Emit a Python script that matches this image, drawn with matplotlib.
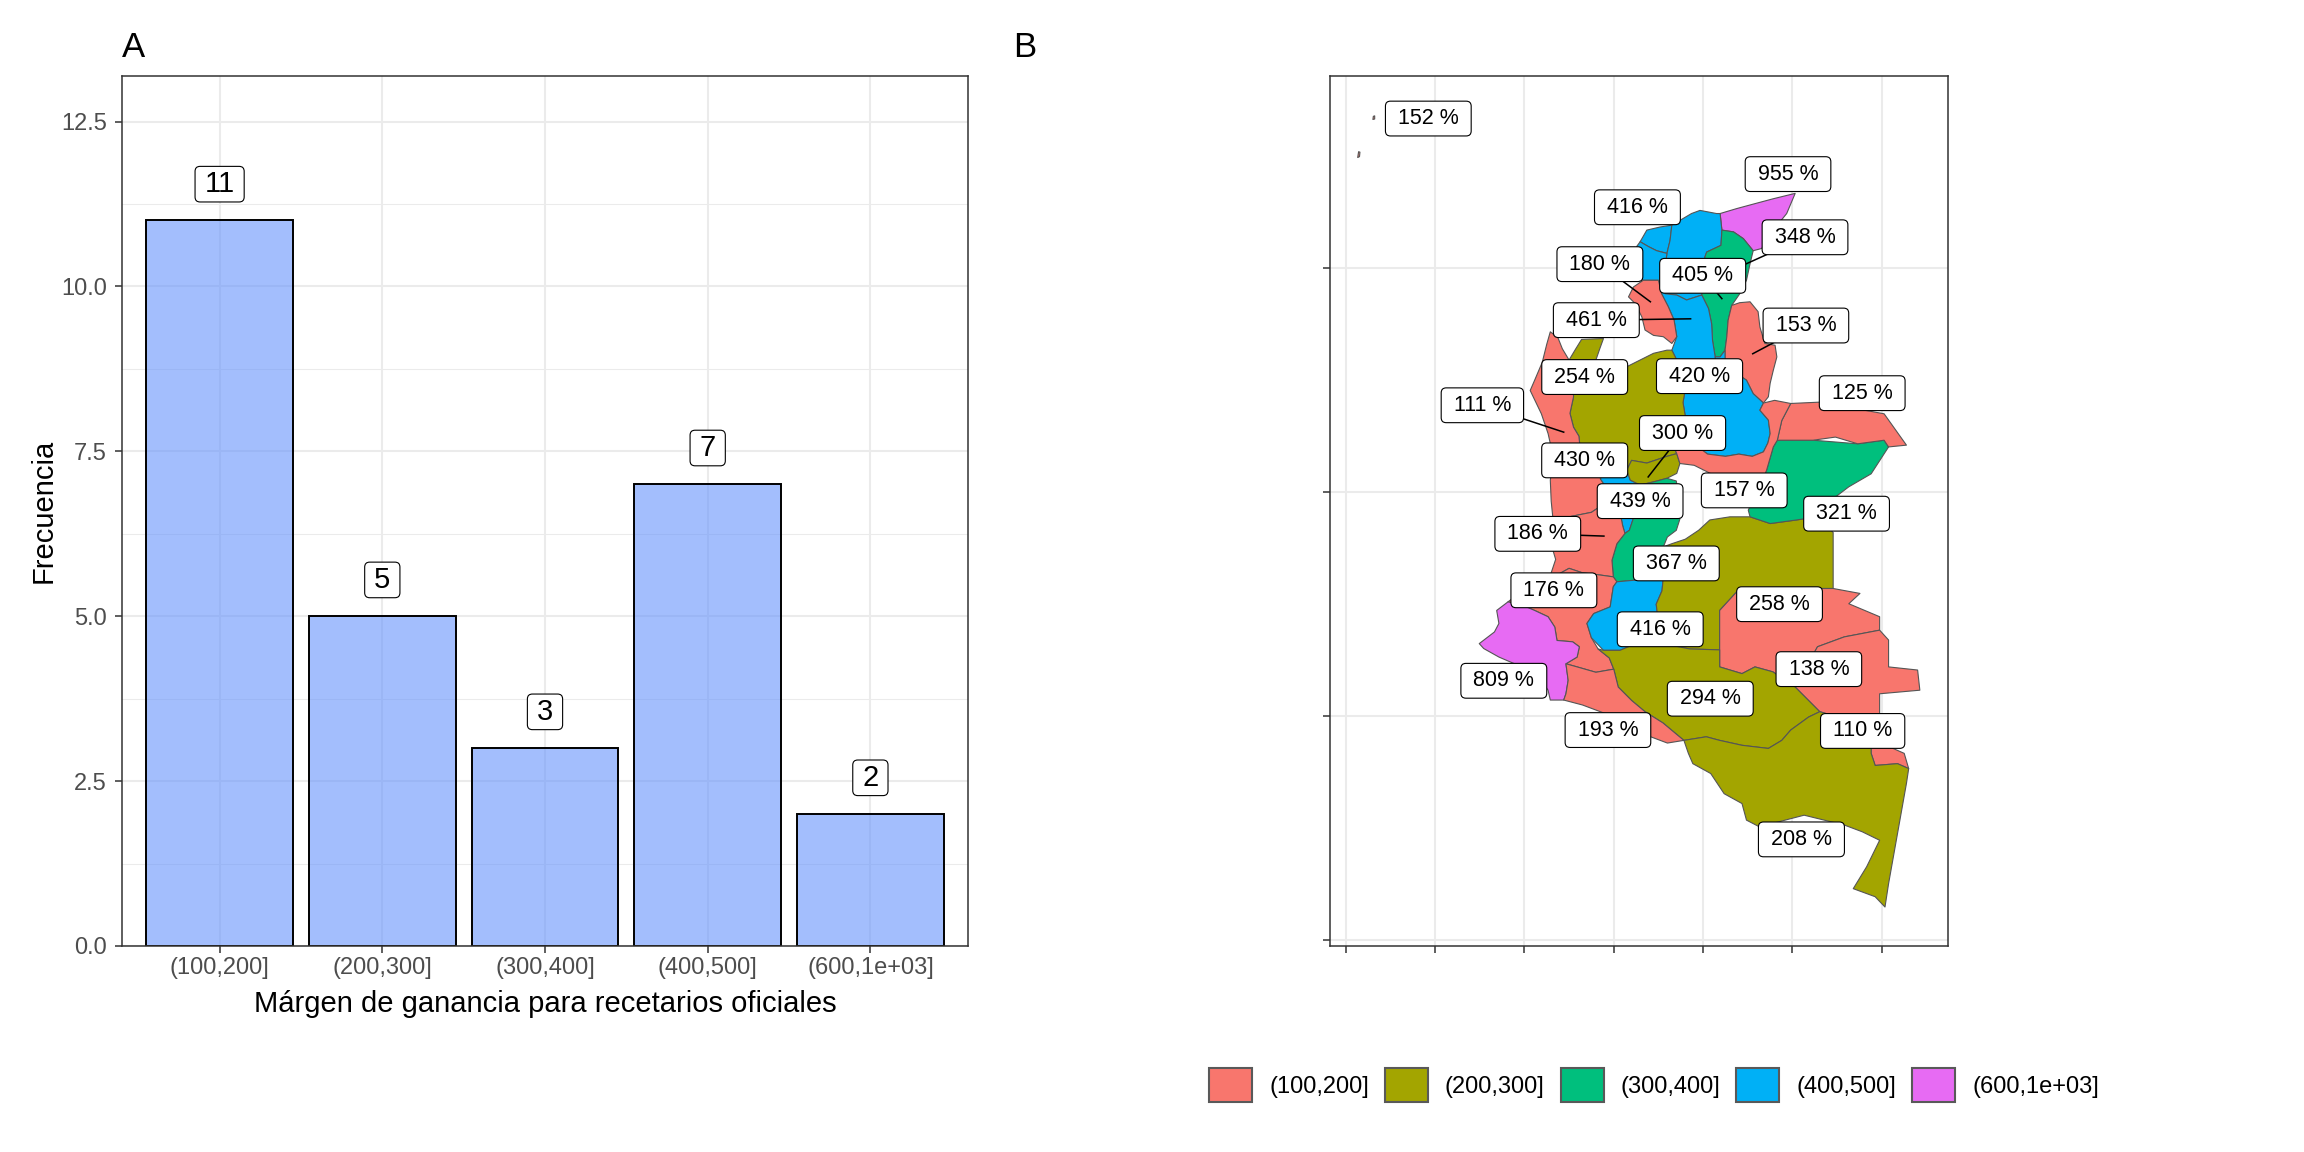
import numpy as np
import matplotlib
matplotlib.use("Agg")
import matplotlib.pyplot as plt
from matplotlib.patches import Polygon, FancyBboxPatch, Patch
from matplotlib.transforms import IdentityTransform
from matplotlib.ticker import MultipleLocator

plt.rcParams["font.family"] = ["Liberation Sans", "DejaVu Sans"]

# Panel A: frequency of the margin classes.
categories = ["(100,200]", "(200,300]", "(300,400]", "(400,500]", "(600,1e+03]"]
counts = [11, 5, 3, 7, 2]

# Panel B: margin (%) per department, outlines in lon/lat.
dept_names = ["San Andrés", "La Guajira", "Atlántico", "Magdalena", "Cesar", "Bolívar",
              "Sucre", "Norte de Santander", "Santander", "Antioquia", "Chocó", "Risaralda",
              "Caldas", "Quindío", "Tolima", "Valle", "Cauca", "Nariño", "Huila", "Meta",
              "Guaviare", "Vaupés", "Caquetá", "Putumayo", "Amazonas", "Casanare", "Arauca",
              "Boyacá"]
dept_values = [152, 955, 416, 405, 348, 461,
               180, 153, 420, 254, 111, 430,
               300, 439, 367, 186, 176, 809, 416, 258,
               138, 110, 294, 193, 208, 321, 125,
               157]

dept_shapes = {
    "San Andrés": [
        [(-81.73, 12.47), (-81.69, 12.49), (-81.68, 12.59), (-81.71, 12.60)],
        [(-81.39, 13.32), (-81.35, 13.33), (-81.35, 13.40), (-81.38, 13.39)]],
    "La Guajira": [[(-73.62, 11.22), (-73.25, 11.33), (-72.88, 11.43), (-72.43, 11.55), (-71.94, 11.67),
                    (-72.13, 11.22), (-72.43, 10.85), (-72.69, 10.44), (-72.88, 10.39), (-73.10, 10.66),
                    (-73.32, 10.81), (-73.58, 10.85)]],
    "Atlántico": [[(-75.41, 10.59), (-75.26, 10.85), (-74.96, 10.92), (-74.70, 10.96), (-74.74, 10.62),
                   (-74.81, 10.33), (-75.04, 10.39), (-75.22, 10.48)]],
    "Magdalena": [[(-74.70, 10.96), (-74.26, 11.22), (-74.07, 11.29), (-73.70, 11.22), (-73.62, 11.22),
                   (-73.58, 10.85), (-73.60, 10.51), (-73.92, 10.36), (-73.96, 10.25), (-73.99, 9.73),
                   (-74.03, 9.40), (-74.37, 9.29), (-74.59, 9.40), (-74.85, 9.43), (-74.89, 9.73),
                   (-74.85, 10.03), (-74.81, 10.33), (-74.74, 10.62)]],
    "Cesar": [[(-73.58, 10.85), (-73.32, 10.81), (-73.10, 10.66), (-72.88, 10.39), (-72.95, 10.10),
               (-73.03, 9.73), (-73.18, 9.43), (-73.36, 9.17), (-73.44, 8.84), (-73.47, 8.47),
               (-73.51, 8.17), (-73.62, 8.02), (-73.73, 8.02), (-73.79, 8.39), (-73.81, 8.76),
               (-73.88, 9.10), (-74.03, 9.40), (-73.99, 9.73), (-73.96, 10.25), (-73.92, 10.36),
               (-73.60, 10.51)]],
    "Bolívar": [[(-75.41, 10.59), (-75.22, 10.48), (-75.04, 10.39), (-74.81, 10.33), (-74.85, 10.03),
                 (-74.89, 9.73), (-74.85, 9.43), (-74.59, 9.40), (-74.37, 9.29), (-74.03, 9.40),
                 (-73.88, 9.10), (-73.81, 8.76), (-73.79, 8.39), (-73.73, 8.02), (-73.70, 7.76),
                 (-73.92, 7.57), (-74.22, 7.54), (-74.44, 7.69), (-74.59, 7.95), (-74.70, 8.17),
                 (-74.59, 8.47), (-74.65, 8.84), (-74.78, 9.14), (-74.93, 9.43), (-75.00, 9.73),
                 (-75.34, 9.73), (-75.52, 9.95), (-75.52, 10.25), (-75.49, 10.48)]],
    "Sucre": [[(-75.34, 9.73), (-75.00, 9.73), (-74.93, 9.43), (-74.78, 9.14), (-74.65, 8.84),
               (-74.59, 8.47), (-74.70, 8.32), (-74.89, 8.47), (-75.11, 8.50), (-75.30, 8.62),
               (-75.37, 8.91), (-75.52, 9.21), (-75.67, 9.36), (-75.56, 9.58)]],
    "Norte de Santander": [[(-73.36, 9.17), (-73.18, 9.23), (-72.95, 9.25), (-72.77, 9.03), (-72.73, 8.69),
                            (-72.62, 8.32), (-72.39, 8.28), (-72.35, 8.02), (-72.43, 7.72), (-72.50, 7.43),
                            (-72.54, 7.13), (-72.65, 6.99), (-72.88, 7.20), (-73.03, 7.50), (-73.25, 7.65),
                            (-73.51, 7.95), (-73.51, 8.17), (-73.47, 8.47), (-73.44, 8.84)]],
    "Santander": [[(-74.22, 7.54), (-73.92, 7.57), (-73.70, 7.76), (-73.73, 8.02), (-73.62, 8.02),
                   (-73.51, 8.17), (-73.51, 7.95), (-73.25, 7.65), (-73.03, 7.50), (-72.88, 7.20),
                   (-72.65, 6.99), (-72.73, 6.83), (-72.54, 6.61), (-72.50, 6.31), (-72.55, 6.10),
                   (-72.65, 5.90), (-72.90, 5.80), (-73.20, 5.85), (-73.50, 5.80), (-73.90, 5.85),
                   (-74.10, 6.00), (-74.25, 6.30), (-74.40, 6.70), (-74.45, 7.00), (-74.40, 7.30)]],
    "Antioquia": [[(-76.72, 8.41), (-76.23, 8.43), (-76.31, 8.21), (-76.40, 7.95), (-76.16, 7.80),
                   (-75.71, 7.80), (-75.41, 7.95), (-75.11, 8.10), (-74.81, 8.17), (-74.70, 8.17),
                   (-74.59, 7.95), (-74.44, 7.69), (-74.22, 7.54), (-74.40, 7.30), (-74.45, 7.00),
                   (-74.40, 6.70), (-74.55, 6.30), (-74.65, 6.00), (-74.59, 5.86), (-74.81, 5.80),
                   (-75.26, 5.65), (-75.60, 5.71), (-75.71, 5.49), (-75.90, 5.50), (-76.10, 5.55),
                   (-76.45, 5.75), (-76.75, 5.95), (-76.78, 6.25), (-76.90, 6.45), (-76.98, 6.76),
                   (-76.90, 7.13), (-76.92, 7.60), (-77.00, 7.95), (-76.85, 8.20)]],
    "Chocó": [[(-77.42, 8.58), (-77.25, 8.45), (-77.15, 8.20), (-77.00, 7.95), (-76.92, 7.60),
               (-76.90, 7.13), (-76.98, 6.76), (-76.90, 6.45), (-76.78, 6.25), (-76.75, 5.95),
               (-76.45, 5.75), (-76.10, 5.55), (-76.30, 5.30), (-76.10, 5.00), (-76.20, 4.75),
               (-76.50, 4.55), (-77.00, 4.45), (-77.35, 4.30), (-77.40, 4.80), (-77.42, 5.27),
               (-77.35, 5.70), (-77.40, 6.00), (-77.47, 6.31), (-77.62, 6.75), (-77.87, 7.27),
               (-77.77, 7.50), (-77.60, 7.90), (-77.50, 8.30)]],
    "Risaralda": [[(-76.30, 5.30), (-76.10, 5.55), (-75.90, 5.50), (-75.71, 5.49), (-75.63, 5.27),
                   (-75.41, 5.16), (-75.45, 4.95), (-75.65, 4.80), (-75.90, 4.75), (-76.20, 4.75),
                   (-76.10, 5.00)]],
    "Caldas": [[(-75.60, 5.71), (-75.26, 5.65), (-74.81, 5.80), (-74.59, 5.86), (-74.52, 5.64),
                (-74.59, 5.42), (-74.81, 5.31), (-75.11, 5.23), (-75.41, 5.16), (-75.63, 5.27),
                (-75.71, 5.49)]],
    "Quindío": [[(-75.90, 4.75), (-75.65, 4.80), (-75.50, 4.70), (-75.55, 4.45), (-75.65, 4.15),
                 (-75.75, 4.08), (-75.80, 4.25), (-75.85, 4.50)]],
    "Tolima": [[(-75.45, 4.95), (-75.41, 5.16), (-75.11, 5.23), (-74.81, 5.31), (-74.60, 5.25),
                (-74.55, 4.90), (-74.52, 4.40), (-74.60, 4.15), (-74.80, 4.00), (-74.89, 3.78),
                (-74.89, 3.11), (-75.48, 3.04), (-75.93, 3.00), (-76.01, 3.11), (-76.04, 3.48),
                (-75.93, 3.85), (-75.75, 4.08), (-75.65, 4.15), (-75.55, 4.45), (-75.50, 4.70),
                (-75.65, 4.80)]],
    "Valle": [[(-77.35, 4.30), (-77.00, 4.45), (-76.50, 4.55), (-76.20, 4.75), (-75.90, 4.75),
               (-75.85, 4.50), (-75.80, 4.25), (-75.75, 4.08), (-75.93, 3.85), (-76.04, 3.48),
               (-76.01, 3.11), (-76.30, 3.15), (-76.70, 3.20), (-77.00, 3.30), (-77.45, 3.05),
               (-77.30, 3.50), (-77.45, 4.00)]],
    "Cauca": [[(-77.45, 3.05), (-77.00, 3.30), (-76.70, 3.20), (-76.30, 3.15), (-76.01, 3.11),
               (-75.93, 3.00), (-76.01, 2.89), (-76.08, 2.44), (-76.45, 2.29), (-76.60, 2.07),
               (-76.50, 1.75), (-76.35, 1.50), (-76.10, 1.30), (-76.00, 1.05), (-76.40, 0.98),
               (-76.82, 1.10), (-77.07, 1.17), (-76.82, 1.32), (-76.77, 1.55), (-76.92, 1.66),
               (-77.27, 1.69), (-77.32, 1.99), (-77.47, 2.22), (-77.77, 2.36), (-78.12, 2.51),
               (-78.37, 2.55), (-78.10, 2.75), (-77.80, 2.95)]],
    "Nariño": [[(-78.37, 2.55), (-78.62, 2.36), (-78.57, 2.07), (-78.67, 1.88), (-79.01, 1.62),
                (-78.91, 1.51), (-78.57, 1.32), (-78.22, 1.17), (-77.92, 1.03), (-77.62, 0.80),
                (-77.47, 0.58), (-77.42, 0.36), (-77.12, 0.36), (-77.07, 0.50), (-77.02, 0.80),
                (-77.07, 1.17), (-76.82, 1.32), (-76.77, 1.55), (-76.92, 1.66), (-77.27, 1.69),
                (-77.32, 1.99), (-77.47, 2.22), (-77.77, 2.36), (-78.12, 2.51)]],
    "Huila": [[(-75.93, 3.00), (-75.48, 3.04), (-74.89, 3.11), (-74.92, 2.80), (-75.05, 2.50),
               (-75.00, 2.10), (-75.20, 1.80), (-75.55, 1.60), (-75.86, 1.47), (-76.23, 1.47),
               (-76.50, 1.75), (-76.60, 2.07), (-76.45, 2.29), (-76.08, 2.44), (-76.01, 2.89)]],
    "Meta": [[(-74.89, 3.78), (-74.70, 3.85), (-74.40, 3.95), (-74.10, 4.15), (-73.85, 4.38),
              (-73.40, 4.45), (-72.95, 4.45), (-72.50, 4.30), (-71.91, 4.38), (-71.45, 4.45),
              (-71.09, 4.10), (-71.09, 2.85), (-73.18, 2.85), (-73.63, 2.36), (-73.63, 1.48),
              (-74.30, 1.50), (-74.90, 1.62), (-75.20, 1.80), (-75.00, 2.10), (-75.05, 2.50),
              (-74.92, 2.80), (-74.89, 3.11)]],
    "Guaviare": [[(-73.63, 2.36), (-73.18, 2.85), (-71.09, 2.85), (-70.49, 2.74), (-70.74, 2.51),
                  (-70.05, 2.22), (-70.05, 1.92), (-70.84, 1.77), (-71.44, 1.55), (-71.94, 0.65),
                  (-72.44, 0.99), (-72.84, 1.10), (-73.13, 0.95), (-73.63, 1.10), (-73.63, 1.48)]],
    "Vaupés": [[(-71.39, 0.10), (-71.94, 0.65), (-71.44, 1.55), (-70.84, 1.77), (-70.05, 1.92),
                (-69.85, 1.70), (-69.85, 1.10), (-69.20, 1.03), (-69.15, 0.58), (-70.05, 0.50),
                (-70.05, 0.06), (-70.00, -0.39), (-69.75, -0.72), (-69.50, -0.83), (-69.40, -1.17),
                (-69.65, -1.06), (-70.15, -1.10), (-70.24, -0.83), (-70.24, -0.54), (-70.34, -0.31),
                (-70.74, -0.09)]],
    "Caquetá": [[(-76.23, 1.47), (-75.86, 1.47), (-75.55, 1.60), (-75.20, 1.80), (-74.90, 1.62),
                 (-74.30, 1.50), (-73.63, 1.48), (-73.63, 1.10), (-73.13, 0.95), (-72.84, 1.10),
                 (-72.44, 0.99), (-71.94, 0.65), (-71.39, 0.10), (-71.64, -0.02), (-72.04, -0.31),
                 (-72.24, -0.54), (-72.54, -0.72), (-73.13, -0.65), (-73.63, -0.54), (-73.93, -0.46),
                 (-74.43, -0.54), (-74.60, -0.40), (-74.90, -0.15), (-75.30, 0.10), (-75.60, 0.35),
                 (-75.90, 0.65), (-76.00, 1.05), (-76.10, 1.30), (-76.35, 1.50)]],
    "Putumayo": [[(-77.07, 1.17), (-77.02, 0.80), (-77.07, 0.50), (-77.12, 0.36), (-76.70, 0.25),
                  (-76.30, 0.10), (-75.90, -0.05), (-75.50, -0.20), (-75.20, -0.45), (-74.80, -0.60),
                  (-74.43, -0.54), (-74.60, -0.40), (-74.90, -0.15), (-75.30, 0.10), (-75.60, 0.35),
                  (-75.90, 0.65), (-76.00, 1.05), (-76.40, 0.98), (-76.82, 1.10)]],
    "Amazonas": [[(-74.43, -0.54), (-73.93, -0.46), (-73.63, -0.54), (-73.13, -0.65), (-72.54, -0.72),
                  (-72.24, -0.54), (-72.04, -0.31), (-71.64, -0.02), (-71.39, 0.10), (-70.74, -0.09),
                  (-70.34, -0.31), (-70.24, -0.54), (-70.24, -0.83), (-70.15, -1.10), (-69.65, -1.06),
                  (-69.40, -1.17), (-69.45, -1.50), (-69.65, -2.62), (-69.85, -3.74), (-69.93, -4.26),
                  (-70.15, -4.03), (-70.64, -3.85), (-70.34, -3.36), (-70.05, -2.77), (-70.44, -2.58),
                  (-70.84, -2.43), (-71.74, -2.21), (-72.74, -2.47), (-73.03, -2.32), (-73.13, -1.95),
                  (-73.53, -1.73), (-73.83, -1.28), (-74.23, -1.06), (-74.33, -0.83)]],
    "Casanare": [[(-72.34, 6.16), (-71.54, 6.16), (-70.54, 6.08), (-69.95, 6.16), (-69.85, 6.01),
                  (-70.24, 5.41), (-70.74, 5.12), (-71.24, 4.74), (-71.45, 4.45), (-71.91, 4.38),
                  (-72.50, 4.30), (-72.95, 4.45), (-72.99, 4.60), (-72.80, 4.97), (-72.58, 5.49),
                  (-72.43, 6.01)]],
    "Arauca": [[(-72.04, 6.98), (-71.39, 7.01), (-69.95, 6.75), (-69.45, 6.05), (-69.85, 6.01),
                (-69.95, 6.16), (-70.54, 6.08), (-71.04, 6.23), (-71.54, 6.16), (-72.34, 6.16),
                (-72.24, 6.60)]],
    "Boyacá": [[(-72.65, 6.99), (-72.40, 7.05), (-72.04, 6.98), (-72.24, 6.60), (-72.34, 6.16),
                (-72.43, 6.01), (-72.58, 5.49), (-72.80, 4.97), (-73.00, 5.00), (-73.30, 5.15),
                (-73.60, 5.30), (-73.90, 5.45), (-74.20, 5.60), (-74.52, 5.64), (-74.59, 5.86),
                (-74.65, 6.00), (-74.55, 6.30), (-74.25, 6.30), (-74.10, 6.00), (-73.90, 5.85),
                (-73.50, 5.80), (-73.20, 5.85), (-72.90, 5.80), (-72.65, 5.90), (-72.55, 6.10),
                (-72.50, 6.31), (-72.54, 6.61), (-72.73, 6.83)]],
}

# Where the repelled labels sit (lon, lat) and, for some, the point their segment goes to.
label_lonlat = {
    "San Andrés": (-80.15, 13.34), "La Guajira": (-72.10, 12.10), "Atlántico": (-75.47, 11.36),
    "Cesar": (-71.72, 10.69), "Sucre": (-76.31, 10.09), "Magdalena": (-74.01, 9.83),
    "Bolívar": (-76.39, 8.84), "Norte de Santander": (-71.70, 8.72), "Antioquia": (-76.65, 7.57),
    "Santander": (-74.08, 7.59), "Arauca": (-70.44, 7.21), "Chocó": (-78.94, 6.94),
    "Caldas": (-74.46, 6.32), "Risaralda": (-76.65, 5.71), "Boyacá": (-73.08, 5.04),
    "Quindío": (-75.41, 4.80), "Casanare": (-70.79, 4.52), "Valle": (-77.70, 4.07),
    "Tolima": (-74.60, 3.41), "Cauca": (-77.34, 2.81), "Meta": (-72.29, 2.50),
    "Huila": (-74.96, 1.94), "Nariño": (-78.46, 0.79), "Guaviare": (-71.41, 1.05),
    "Caquetá": (-73.84, 0.39), "Putumayo": (-76.13, -0.31), "Vaupés": (-70.43, -0.33),
    "Amazonas": (-71.80, -2.75),
}
leader_lonlat = {
    "Cesar": (-73.03, 10.10), "Sucre": (-75.18, 9.25), "Magdalena": (-73.58, 9.32),
    "Bolívar": (-74.28, 8.87), "Norte de Santander": (-72.89, 8.09), "Chocó": (-77.12, 6.34),
    "Caldas": (-75.23, 5.34), "Valle": (-76.22, 4.02),
}

palette = ["#F8766D", "#A3A500", "#00BF7D", "#00B0F6", "#E76BF3"]
class_upper = [200, 300, 400, 500]

W, H = 2304, 1152
fig = plt.figure(figsize=(W / 100, H / 100), dpi=100)


def px_rect(left, top, right, bottom):
    return [left / W, 1 - bottom / H, (right - left) / W, (bottom - top) / H]


grid_col = "#EBEBEB"
frame_col = "#333333"
boxes = []


def boxed_label(ax, x, y, text, size, padx, pady):
    t = ax.text(x, y, text, fontsize=size, ha="center", va="center", zorder=6)
    boxes.append((ax, t, padx, pady))


def frame(ax):
    for s in ax.spines.values():
        s.set_color(frame_col)
        s.set_linewidth(1.1)
    ax.set_axisbelow(True)
    ax.tick_params(which="major", length=5, width=1.1, color=frame_col)


# ---------- A: bar chart ----------
ax = fig.add_axes(px_rect(122, 76, 968, 946))
xpos = np.arange(len(categories))
ax.bar(xpos, counts, width=0.9, color=(0.40, 0.58, 0.99, 0.6),
       edgecolor="black", linewidth=1.4, zorder=2)
for xi, c in zip(xpos, counts):
    boxed_label(ax, xi, c + 0.55, str(c), 21, 9.5, 3.8)

ax.set_xlim(-0.6, len(categories) - 0.4)
ax.set_ylim(0, 13.19)
yt = np.arange(0, 12.6, 2.5)
ax.set_yticks(yt)
ax.set_yticklabels([f"{v:.1f}" for v in yt])
ax.yaxis.set_minor_locator(MultipleLocator(1.25))
ax.set_xticks(xpos)
ax.set_xticklabels(categories)
frame(ax)
ax.tick_params(which="minor", length=0)
ax.tick_params(axis="both", labelsize=17, labelcolor="#4D4D4D")
ax.tick_params(axis="x", pad=3)
ax.tick_params(axis="y", pad=6)
ax.grid(True, which="major", color=grid_col, linewidth=1.45)
ax.grid(True, which="minor", axis="y", color=grid_col, linewidth=0.75)

fig.text(545 / W, 1 - 1004 / H, "Márgen de ganancia para recetarios oficiales",
         fontsize=21, ha="center", va="center")
fig.text(44 / W, 1 - 511 / H, "Frecuencia", fontsize=21, rotation=90,
         ha="center", va="center")
fig.text(122 / W, 1 - 57 / H, "A", fontsize=25, ha="left", va="baseline")

# ---------- B: map ----------
axm = fig.add_axes(px_rect(1330, 76, 1948, 946))
for name, val in zip(dept_names, dept_values):
    col = palette[int(np.digitize(val, class_upper, right=True))]
    for ring in dept_shapes[name]:
        axm.add_patch(Polygon(ring, closed=True, facecolor=col, edgecolor="#555555",
                              linewidth=0.8, joinstyle="round", zorder=2))

for name, val in zip(dept_names, dept_values):
    lx, ly = label_lonlat[name]
    if name in leader_lonlat:
        px, py = leader_lonlat[name]
        axm.plot([lx, px], [ly, py], color="black", linewidth=1.1, zorder=4)
    boxed_label(axm, lx, ly, f"{val} %", 15.5, 12.5, 6.9)

axm.set_xlim(-82.35, -68.52)
axm.set_ylim(-5.13, 14.29)
axm.set_xticks(np.arange(-82, -69, 2))
axm.set_yticks([-5, 0, 5, 10])
frame(axm)
axm.tick_params(labelbottom=False, labelleft=False)
axm.grid(True, color=grid_col, linewidth=1.45)

fig.text(1013 / W, 1 - 57 / H, "B", fontsize=25, ha="left", va="baseline")

handles = [Patch(facecolor=c, edgecolor="#595959", linewidth=1.5) for c in palette]
fig.legend(handles, categories, loc="center", bbox_to_anchor=(1654 / W, 1 - 1085 / H),
           ncol=5, frameon=False, fontsize=17, handlelength=1.82, handleheight=1.82,
           handletextpad=0.72, columnspacing=0.68, borderaxespad=0)

# rounded label boxes sized from the rendered text
fig.canvas.draw()
renderer = fig.canvas.get_renderer()
for a, t, padx, pady in boxes:
    bb = t.get_window_extent(renderer)
    a.add_artist(FancyBboxPatch((bb.x0 - padx, bb.y0 - pady), bb.width + 2 * padx,
                                bb.height + 2 * pady, boxstyle="round,pad=0,rounding_size=5",
                                transform=IdentityTransform(), facecolor="white",
                                edgecolor="black", linewidth=0.8, zorder=5, clip_on=False))

fig.savefig("out.png", dpi=100)
